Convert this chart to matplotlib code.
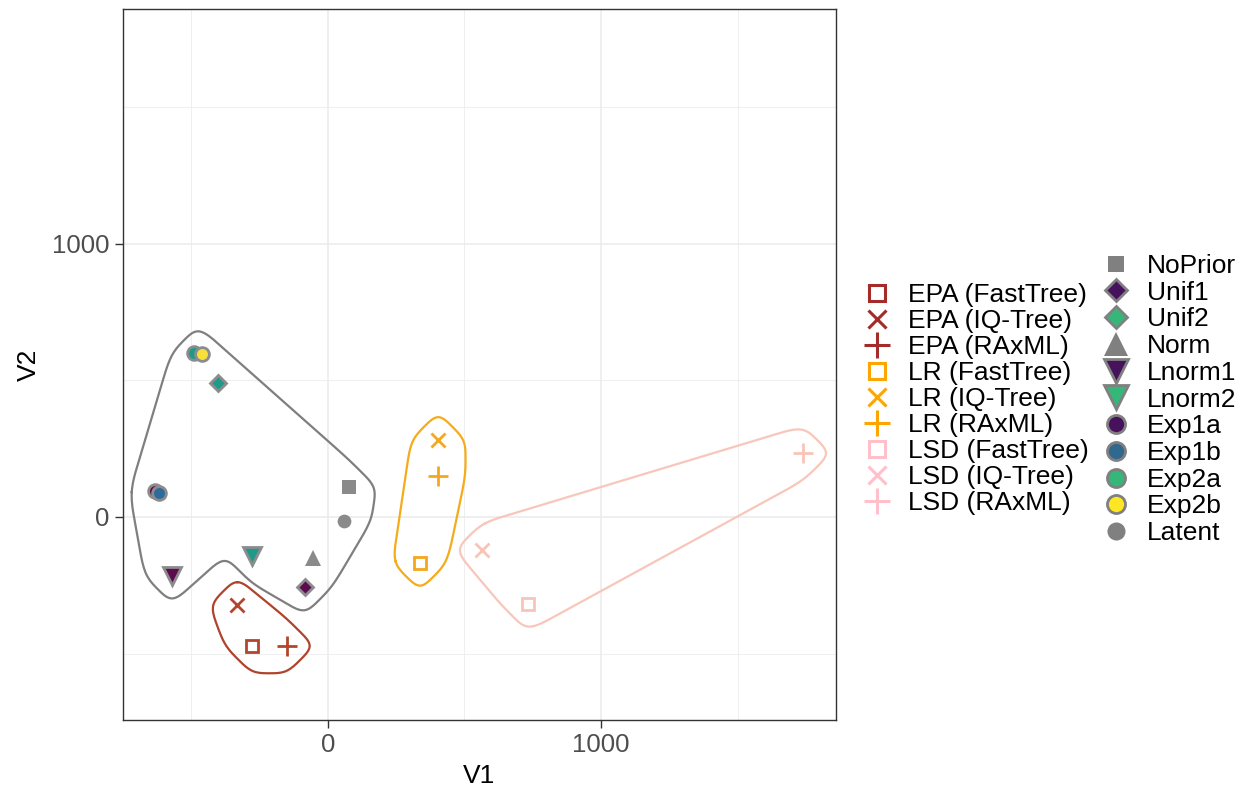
import numpy as np
import matplotlib
matplotlib.use("Agg")
import matplotlib.pyplot as plt
from matplotlib.lines import Line2D

plt.rcParams["font.family"] = ["Liberation Sans", "DejaVu Sans"]

# ---- data ----
method_labels = ["EPA (FastTree)", "EPA (IQ-Tree)", "EPA (RAxML)",
                 "LR (FastTree)", "LR (IQ-Tree)", "LR (RAxML)",
                 "LSD (FastTree)", "LSD (IQ-Tree)", "LSD (RAxML)"]
method_group = ["EPA", "EPA", "EPA", "LR", "LR", "LR", "LSD", "LSD", "LSD"]
method_v1 = [-278, -333, -150, 337, 404, 404, 731, 566, 1740]
method_v2 = [-472, -322, -472, -168, 282, 150, -318, -121, 233]

prior_labels = ["NoPrior", "Unif1", "Unif2", "Norm", "Lnorm1", "Lnorm2",
                "Exp1a", "Exp1b", "Exp2a", "Exp2b", "Latent"]
prior_v1 = [77, -84, -403, -55, -571, -278, -633, -619, -489, -460, 59]
prior_v2 = [110, -256, 490, -150, -216, -143, 95, 88, 601, 597, -15]

# ---- styles ----
tool_marker = {"FastTree": "s", "IQ-Tree": "x", "RAxML": "+"}
tool_ms = {"FastTree": 8, "IQ-Tree": 10, "RAxML": 15}
tool_ms_leg = {"FastTree": 12, "IQ-Tree": 13, "RAxML": 19}
group_col = {"EPA": "#B4452D", "LR": "#F5A81C", "LSD": "#F9C4B8"}
group_leg = {"EPA": "#A52A2A", "LR": "#FFA500", "LSD": "#FFC0CB"}
hull_col = {"EPA": "#B0432B", "LR": "#F6AB1A", "LSD": "#F8C6BA", "prior": "#7F7F7F"}

prior_marker = {"NoPrior": "s", "Unif1": "D", "Unif2": "D", "Norm": "^",
                "Lnorm1": "v", "Lnorm2": "v", "Exp1a": "o", "Exp1b": "o",
                "Exp2a": "o", "Exp2b": "o", "Latent": "o"}
prior_fill = {"NoPrior": "#8A8A8A", "Unif1": "#5C0B4E", "Unif2": "#1F9A8A",
              "Norm": "#8A8A8A", "Lnorm1": "#5C0B4E", "Lnorm2": "#1F9A8A",
              "Exp1a": "#5C0B4E", "Exp1b": "#2E6B9B", "Exp2a": "#1F9A8A",
              "Exp2b": "#F7E03A", "Latent": "#8A8A8A"}
prior_leg = {"NoPrior": "#808080", "Unif1": "#46125C", "Unif2": "#35B779",
             "Norm": "#808080", "Lnorm1": "#46125C", "Lnorm2": "#35B779",
             "Exp1a": "#46125C", "Exp1b": "#31688E", "Exp2a": "#35B779",
             "Exp2b": "#FDE725", "Latent": "#808080"}
prior_ms = {"s": 9.9, "D": 8.6, "^": 12, "v": 12.5, "o": 9.9}
prior_ms_leg = {"s": 12, "D": 11.5, "^": 17, "v": 17, "o": 13}
plain = ("NoPrior", "Norm", "Latent")


def seg_dist(p, a, b):
    ab = b - a
    t = np.clip(((p - a) @ ab) / max(ab @ ab, 1e-12), 0, 1)
    return np.hypot(*(p - (a + t * ab)))


def concave_hull(pts, concavity=2.0):
    order = sorted(range(len(pts)), key=lambda i: (pts[i, 0], pts[i, 1]))

    def cross(o, a, b):
        return (pts[a, 0] - pts[o, 0]) * (pts[b, 1] - pts[o, 1]) - \
               (pts[a, 1] - pts[o, 1]) * (pts[b, 0] - pts[o, 0])
    lower, upper = [], []
    for i in order:
        while len(lower) >= 2 and cross(lower[-2], lower[-1], i) <= 0:
            lower.pop()
        lower.append(i)
    for i in reversed(order):
        while len(upper) >= 2 and cross(upper[-2], upper[-1], i) <= 0:
            upper.pop()
        upper.append(i)
    hull = lower[:-1] + upper[:-1]
    changed = True
    while changed:
        changed = False
        inner = [i for i in range(len(pts)) if i not in hull]
        n = len(hull)
        for k in range(n):
            a, b = pts[hull[k]], pts[hull[(k + 1) % n]]
            L = np.hypot(*(b - a))
            best = None
            for i in inner:
                p = pts[i]
                d_all = [seg_dist(p, pts[hull[j]], pts[hull[(j + 1) % n]]) for j in range(n)]
                if d_all[k] > min(d_all):
                    continue
                if min(np.hypot(*(p - a)), np.hypot(*(p - b))) <= L / concavity:
                    if best is None or d_all[k] < best[0]:
                        best = (d_all[k], i)
            if best is not None:
                hull.insert(k + 1, best[1])
                changed = True
                break
    return pts[hull]


def merge_close(pts, tol):
    groups = []
    for p in pts:
        for g in groups:
            if np.hypot(*(np.mean(g, axis=0) - p)) < tol:
                g.append(p)
                break
        else:
            groups.append([p])
    return np.array([np.mean(g, axis=0) for g in groups])


def edge_normals(hull):
    n = len(hull)
    out = []
    for i in range(n):
        d = hull[(i + 1) % n] - hull[i]
        out.append(np.degrees(np.arctan2(-d[0], d[1])))
    return out


def tip(v, k, expand):
    ang = np.radians(k * 90)
    return v + expand * np.array([np.cos(ang), np.sin(ang)])


def encircle(x, y, expand=100, step=110, nseg=10):
    # concave hull, corners spread to diamond tips, closed cubic B-spline
    pts = merge_close(np.column_stack([x, y]).astype(float), 0.5 * expand)
    hull = concave_hull(pts)
    # drop only slightly reflex corners
    while True:
        nrm = edge_normals(hull)
        turn = [(nrm[i] - nrm[i - 1] + 180) % 360 - 180 for i in range(len(hull))]
        flat = [i for i in range(len(hull)) if -30 < turn[i] < 0]
        if not flat:
            break
        hull = np.delete(hull, flat[0], axis=0)
    n = len(hull)
    ctrl = []
    for i in range(n):
        a1, s = nrm[i - 1], turn[i]
        if s >= 0:
            ks = list(range(int(np.round(a1 / 90)), int(np.round((a1 + s) / 90)) + 1))
        else:
            back = hull[i - 1] - hull[i]
            kb = int(np.round(np.degrees(np.arctan2(back[1], back[0])) / 90)) % 4
            km = int(np.round((a1 + s / 2) / 90)) % 4
            ks = [kb, km] if kb != km else [km]
        ctrl += [tip(hull[i], k, expand) for k in ks]
    ctrl = np.array(ctrl)
    dense = []
    m = len(ctrl)
    for i in range(m):
        p, q = ctrl[i], ctrl[(i + 1) % m]
        k = max(1, int(np.ceil(np.hypot(*(q - p)) / step)))
        dense += [p + (q - p) * j / k for j in range(k)]
    ctrl = np.array(dense)
    m = len(ctrl)
    t = np.linspace(0, 1, nseg, endpoint=False)
    B = np.column_stack([(1 - t) ** 3, 3 * t ** 3 - 6 * t ** 2 + 4,
                         -3 * t ** 3 + 3 * t ** 2 + 3 * t + 1, t ** 3]) / 6
    out = np.vstack([B @ ctrl[[(i - 1) % m, i, (i + 1) % m, (i + 2) % m]] for i in range(m)])
    return np.vstack([out, out[:1]])


fig = plt.figure(figsize=(12.53, 7.93), dpi=100)
ax = fig.add_axes([122.7 / 1253, 1 - 720 / 793, (836 - 122.7) / 1253, (720 - 9) / 793])

# hulls
c = encircle(prior_v1, prior_v2)
ax.plot(c[:, 0], c[:, 1], color=hull_col["prior"], lw=1.6, zorder=2)
mv1, mv2, mg = np.array(method_v1), np.array(method_v2), np.array(method_group)
for grp in ["EPA", "LR", "LSD"]:
    sel = mg == grp
    c = encircle(mv1[sel], mv2[sel])
    ax.plot(c[:, 0], c[:, 1], color=hull_col[grp], lw=1.6, zorder=2)

# points
for lab, x, y in zip(prior_labels, prior_v1, prior_v2):
    mk = prior_marker[lab]
    ax.plot(x, y, marker=mk, ms=prior_ms[mk], mfc=prior_fill[lab], mec="#8C8C8C",
            mew=0 if lab in plain else 2, ls="", zorder=3)
for lab, grp, x, y in zip(method_labels, method_group, method_v1, method_v2):
    tool = lab.split("(")[1].rstrip(")")
    ax.plot(x, y, marker=tool_marker[tool], ms=tool_ms[tool], mfc="none",
            mec=group_col[grp], mew=2, ls="", zorder=3)

ax.set_xlim(-751, 1860)
ax.set_ylim(-743, 1859)
ax.set_xticks([0, 1000])
ax.set_yticks([0, 1000])
ax.set_xticks([-500, 500, 1500], minor=True)
ax.set_yticks([-500, 500, 1500], minor=True)
ax.grid(which="major", color="#EBEBEB", lw=1.1)
ax.grid(which="minor", color="#EBEBEB", lw=0.55)
ax.set_axisbelow(True)
ax.tick_params(which="major", length=5.5, width=1.0, color="#333333", labelsize=18.5,
               labelcolor="#4D4D4D", pad=4)
ax.tick_params(which="minor", length=0)
for sp in ax.spines.values():
    sp.set_color("#333333")
    sp.set_linewidth(1.0)
ax.set_xlabel("V1", fontsize=19, labelpad=5)
ax.set_ylabel("V2", fontsize=19, labelpad=8)

# legends
h1 = []
for lab, grp in zip(method_labels, method_group):
    tool = lab.split("(")[1].rstrip(")")
    h1.append(Line2D([], [], marker=tool_marker[tool], ms=tool_ms_leg[tool], mfc="none",
                     mec=group_leg[grp], mew=2.2, ls=""))
h2 = []
for lab in prior_labels:
    mk = prior_marker[lab]
    h2.append(Line2D([], [], marker=mk, ms=prior_ms_leg[mk], mfc=prior_leg[lab], mec="#808080",
                     mew=0 if lab in plain else 2, ls=""))
kw = dict(frameon=False, fontsize=19, handlelength=1.0, handletextpad=0.65,
          borderpad=0, borderaxespad=0, loc="upper left")
fig.legend(h1, method_labels, bbox_to_anchor=(864 / 1253, 1 - 283 / 793),
           labelspacing=0.075, **kw)
fig.legend(h2, prior_labels, bbox_to_anchor=(1103 / 1253, 1 - 254 / 793),
           labelspacing=0.103, **kw)

fig.savefig("out.png", dpi=100)
